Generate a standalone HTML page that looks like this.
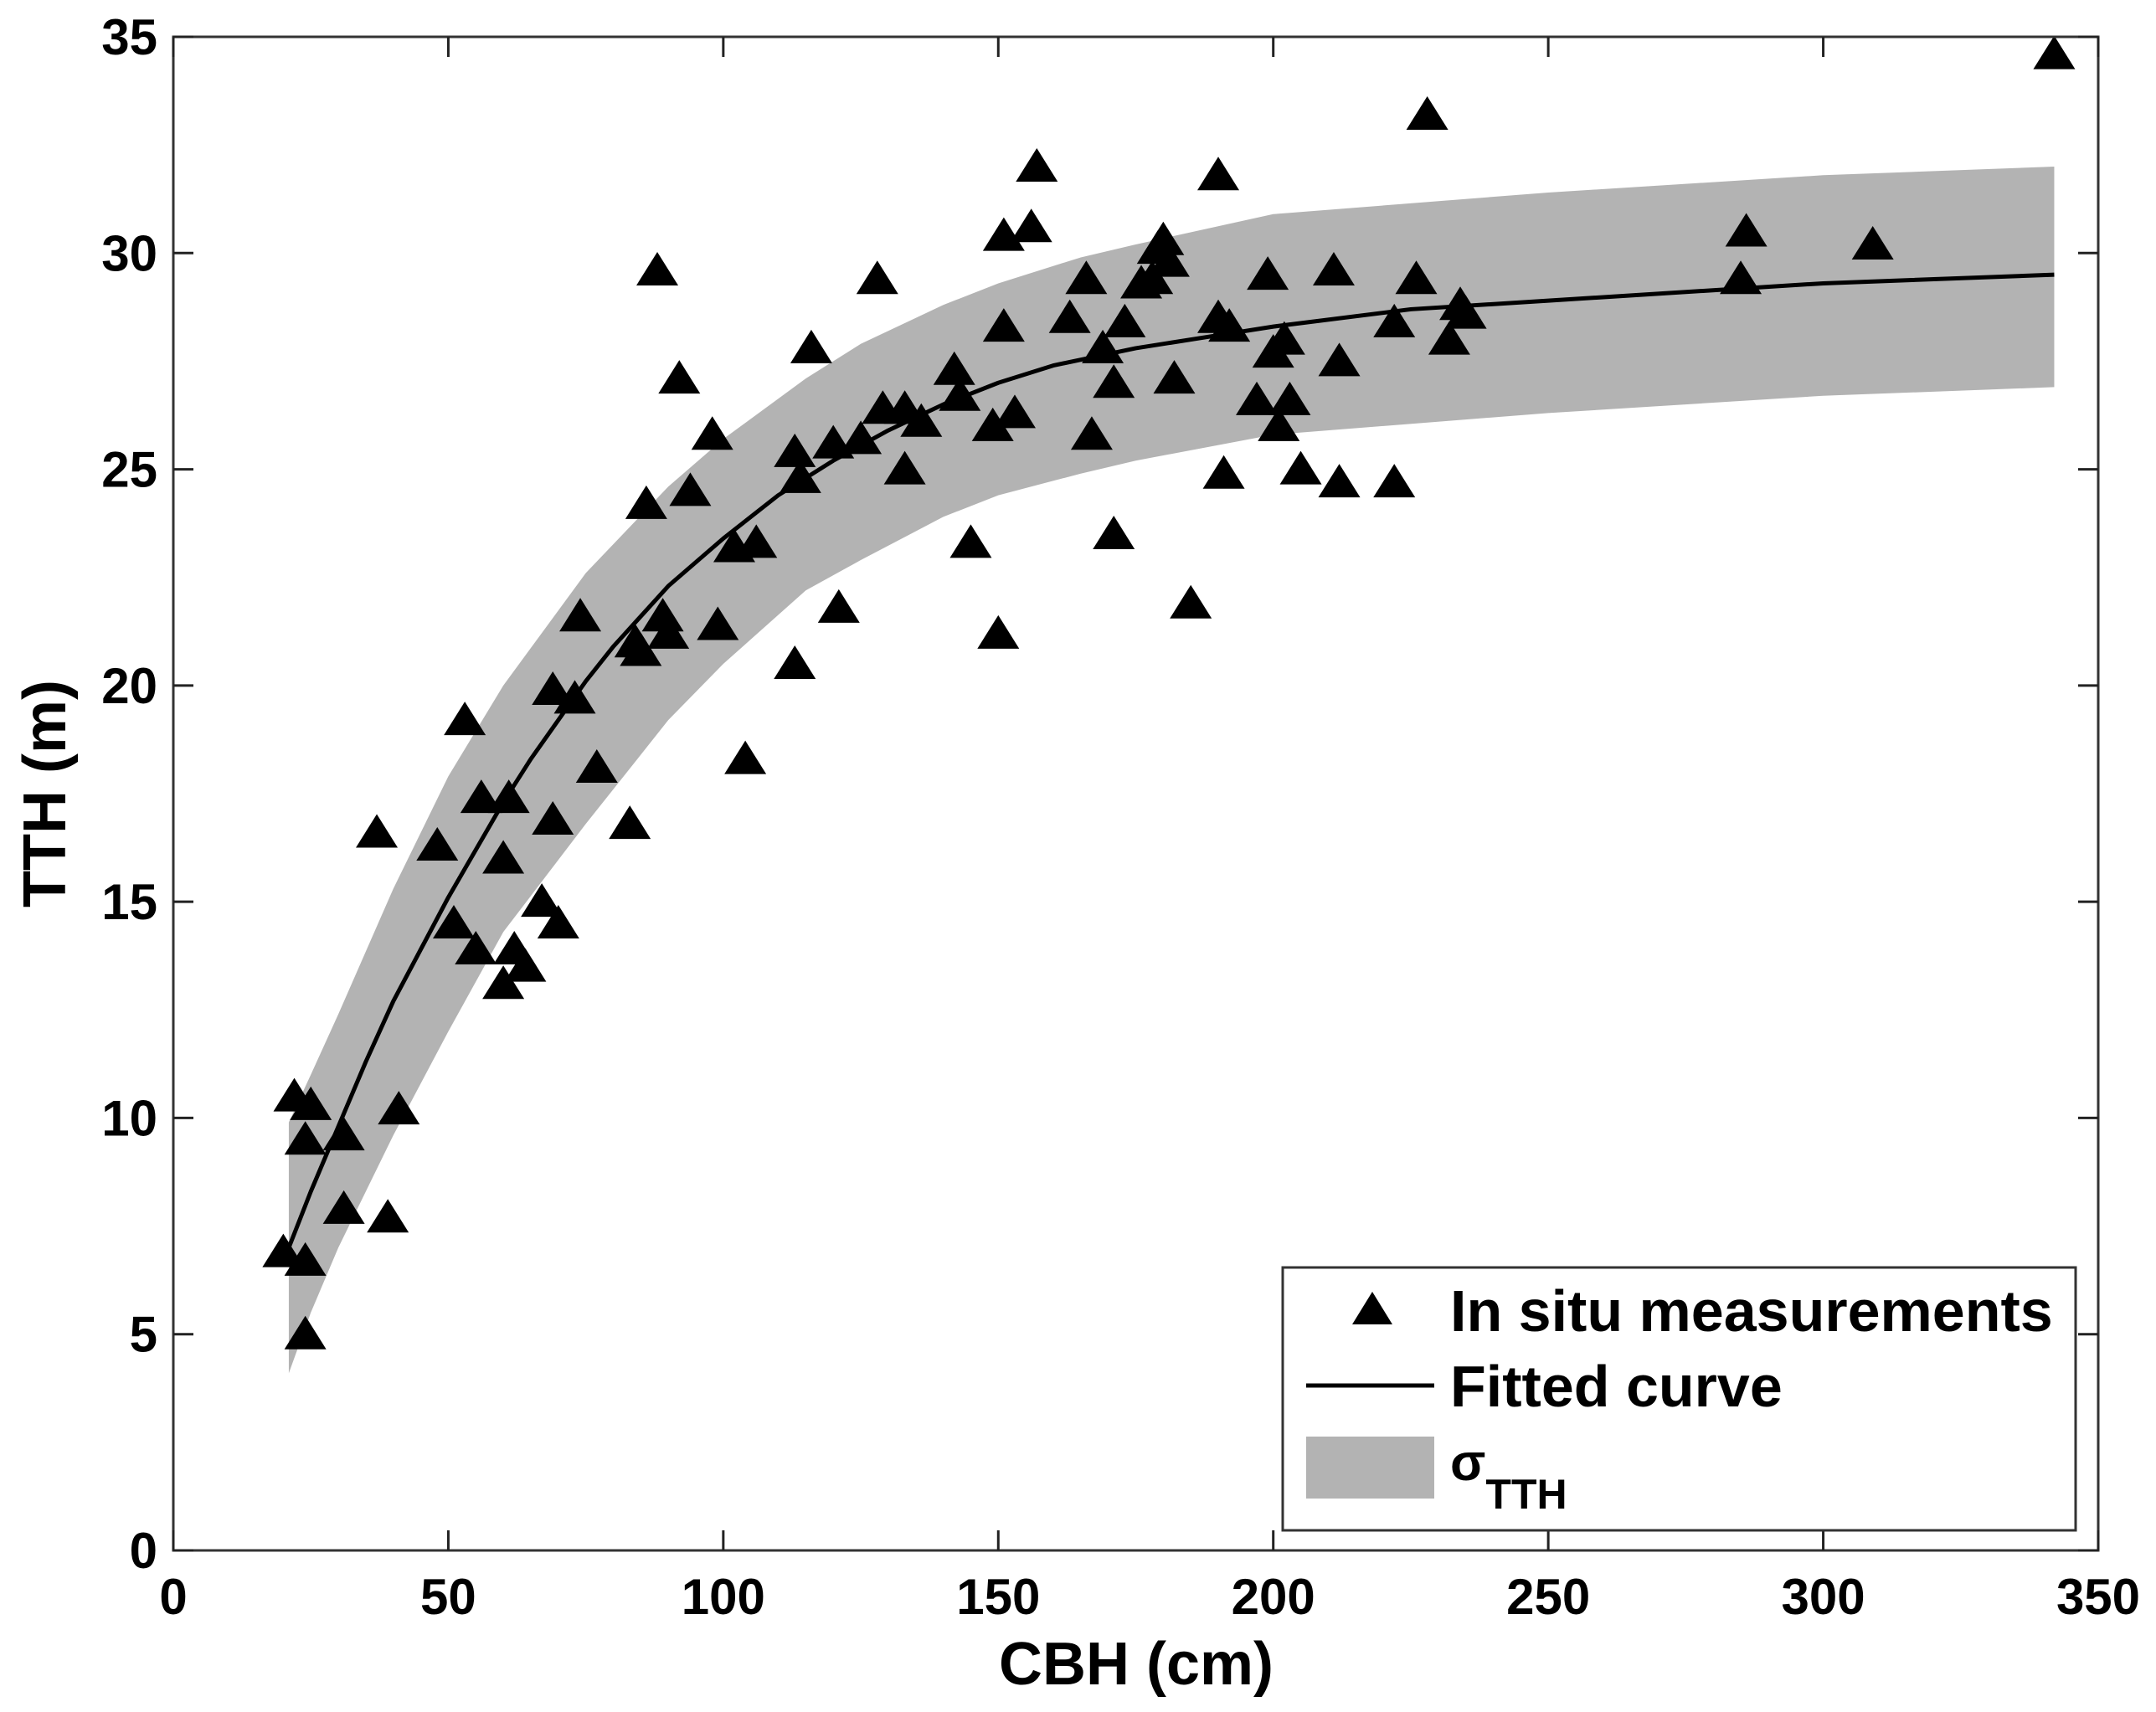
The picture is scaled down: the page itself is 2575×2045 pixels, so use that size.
<!DOCTYPE html>
<html><head><meta charset="utf-8"><style>
html,body{margin:0;padding:0;background:#fff;}
svg text{font-family:"Liberation Sans",Arial,sans-serif;font-weight:bold;fill:#000;}
</style></head><body>
<svg id="chart" width="2575" height="2040" xmlns="http://www.w3.org/2000/svg">
<g id="band-layer"></g>
<g id="curve-layer"></g>
<g id="points-layer"></g>
<g id="axes-layer"></g>
<text x="0" y="0" font-size="72" text-anchor="middle" transform="translate(78,948) rotate(-90)">TTH (m)</text>
<text x="1357" y="2012" font-size="72" text-anchor="middle">CBH (cm)</text>
<g>
<rect x="1532" y="1514" width="947" height="314" fill="#fff" stroke="#333" stroke-width="3"/>
<polygon points="1639,1543 1663,1582 1615,1582" fill="#000"/>
<text x="1732" y="1590" font-size="70">In situ measurements</text>
<line x1="1560" y1="1655" x2="1713" y2="1655" stroke="#000" stroke-width="5"/>
<text x="1732" y="1680" font-size="70">Fitted curve</text>
<rect x="1560" y="1716" width="153" height="74" fill="#b3b3b3"/>
<text x="1732" y="1768" font-size="62">σ<tspan font-size="50" dy="34">TTH</tspan></text>
</g>
</svg>
<script>
const ptX=[20,22,24,25,24,24,31,31,37,39,41,48,51,53,55,56,60,60,61,62,64,67,69,69,70,73,74,77,83,84,85,86,88,89,90,92,94,98,99,102,104,106,113,113,114,116,120,121,125,128,129,133,133,136,142,143,145,149,150,151,151,153,156,157,163,166,167,169,171,171,173,176,178,179,180,181,182,185,190,190,191,192,197,199,200,201,202,203,205,211,212,212,222,222,226,228,232,234,235,285,286,309,342];
const ptY=[6.9,10.5,9.5,10.3,6.7,5.0,9.6,7.9,16.6,7.7,10.2,16.3,14.5,19.2,13.9,17.4,13.1,16.0,17.4,13.9,13.5,15.0,16.9,19.9,14.5,19.7,21.6,18.1,16.8,21.0,20.8,24.2,29.6,21.6,21.2,27.1,24.5,25.8,21.4,23.2,18.3,23.3,20.5,25.4,24.8,27.8,25.6,21.8,25.7,29.4,26.4,26.4,25.0,26.1,27.3,26.7,23.3,26.0,21.2,30.4,28.3,26.3,30.6,32.0,28.5,29.4,25.8,27.8,27.0,23.5,28.4,29.3,29.4,30.1,30.3,29.8,27.1,21.9,31.8,28.5,24.9,28.3,26.6,29.5,27.7,26.0,28.0,26.6,25.0,29.6,27.5,24.7,24.7,28.4,29.4,33.2,28.0,28.8,28.6,29.4,30.5,30.2,34.6];
const fitX=[21,25,30,35,40,45,50,55,60,65,70,75,80,90,100,110,120,130,140,150,160,175,190,200,225,250,300,342];
const fitY=[7.0,8.3,9.8,11.3,12.7,13.9,15.1,16.2,17.3,18.3,19.2,20.1,20.9,22.3,23.4,24.4,25.2,25.9,26.5,27.0,27.4,27.8,28.1,28.3,28.7,28.9,29.3,29.5];
const bandX=[21,25,30,40,50,60,75,90,100,115,125,140,150,165,175,200,250,300,342];
const bandUpper=[9.9,11.0,12.4,15.3,17.9,20.0,22.6,24.6,25.7,27.1,27.9,28.8,29.3,29.9,30.2,30.9,31.4,31.8,32.0];
const bandLower=[4.1,5.5,7.0,9.6,12.0,14.3,16.8,19.2,20.5,22.2,22.9,23.9,24.4,24.9,25.2,25.8,26.3,26.7,26.9];
const xTicks=[0,50,100,150,200,250,300,350];
const yTicks=[0,5,10,15,20,25,30,35];

const L=207,R=2506,T=44,B=1852,xMax=350,yMax=35;
const sx=v=>L+(R-L)*v/xMax, sy=v=>B-(B-T)*v/yMax;
const NS='http://www.w3.org/2000/svg';
function mk(tag,parent,attrs){const e=document.createElementNS(NS,tag);for(const k in attrs)e.setAttribute(k,attrs[k]);parent.appendChild(e);return e;}

const bl=document.getElementById('band-layer');
let d=bandX.map((x,i)=>(i?'L':'M')+sx(x)+','+sy(bandUpper[i])).join('');
for(let i=bandX.length-1;i>=0;i--)d+='L'+sx(bandX[i])+','+sy(bandLower[i]);
const band=mk('path',bl,{d:d+'Z',fill:'#b3b3b3'});



const cl=document.getElementById('curve-layer');
const curve=mk('polyline',cl,{points:fitX.map((x,i)=>sx(x)+','+sy(fitY[i])).join(' '),fill:'none',stroke:'#000','stroke-width':5,'stroke-linejoin':'round'});



const pl=document.getElementById('points-layer');
ptX.forEach((x,i)=>{const cx=sx(x),cy=sy(ptY[i]);
 const p=mk('polygon',pl,{points:`${cx},${cy-22} ${cx+25},${cy+18} ${cx-25},${cy+18}`,fill:'#000'});
 
 
});

const al=document.getElementById('axes-layer');
const frame=mk('rect',al,{x:L,y:T,width:R-L,height:B-T,fill:'none',stroke:'#333','stroke-width':3});


xTicks.forEach(v=>{const x=sx(v);
 mk('line',al,{x1:x,y1:B,x2:x,y2:B-24,stroke:'#222','stroke-width':3});
 mk('line',al,{x1:x,y1:T,x2:x,y2:T+24,stroke:'#222','stroke-width':3});
 const t=mk('text',al,{x:x,y:1928,'font-size':60,'text-anchor':'middle'});t.textContent=v;
 
 
});
yTicks.forEach(v=>{const y=sy(v);
 mk('line',al,{x1:L,y1:y,x2:L+24,y2:y,stroke:'#222','stroke-width':3});
 mk('line',al,{x1:R,y1:y,x2:R-24,y2:y,stroke:'#222','stroke-width':3});
 const t=mk('text',al,{x:188,y:y+21,'font-size':60,'text-anchor':'end'});t.textContent=v;
 
 
});
</script>
</body></html>
